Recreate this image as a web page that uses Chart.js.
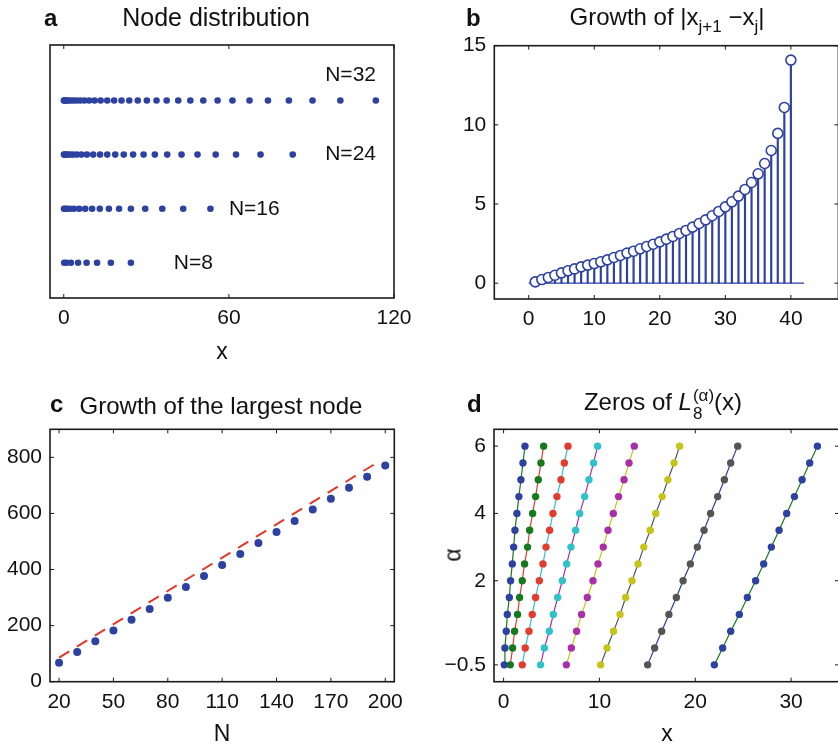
<!DOCTYPE html>
<html lang="en">
<head>
<meta charset="UTF-8">
<title>Laguerre nodes</title>
<script src="https://cdn.jsdelivr.net/npm/chart.js@4.4.1/dist/chart.umd.min.js"></script>
<style>
    body {
        margin: 0;
        width: 838px;
        height: 747px;
        overflow: hidden;
        position: relative;
        background: #fff;
        color: #111;
        font-family: "Liberation Sans", Arial, sans-serif;
    }
    canvas { position: absolute; }
    .lbl {
        position: absolute;
        white-space: nowrap;
        line-height: 1;
        transform: translateY(-50%);
    }
    .letter { font-weight: bold; font-size: 24px; }
    .title { font-size: 24px; transform: translate(-50%, -50%); }
    .axt { font-size: 23px; transform: translate(-50%, -50%); }
    .title sub { font-size: 17px; vertical-align: -7px; line-height: 0; }
    .ss {
        display: inline-block;
        vertical-align: -9px;
        line-height: 1.05;
        font-size: 17px;
        margin-left: 1px;
    }
    .ss span { display: block; }
</style>
</head>
<body>
<canvas id="chartA" width="420" height="370" style="left:0;top:0"></canvas>
<canvas id="chartB" width="405" height="370" style="left:440px;top:0"></canvas>
<canvas id="chartC" width="420" height="367" style="left:0;top:380px"></canvas>
<canvas id="chartD" width="405" height="367" style="left:440px;top:380px"></canvas>

<div class="lbl letter" style="left:44px;top:18px">a</div>
<div class="lbl title" style="left:216px;top:17px;font-size:25px">Node distribution</div>
<div class="lbl axt" style="left:222px;top:351px">x</div>

<div class="lbl letter" style="left:466px;top:18px">b</div>
<div class="lbl title" style="left:667px;top:17px">Growth of |x<sub>j+1</sub> −x<sub>j</sub>|</div>

<div class="lbl letter" style="left:50px;top:404px">c</div>
<div class="lbl title" style="left:221px;top:406px">Growth of the largest node</div>
<div class="lbl axt" style="left:222px;top:733px">N</div>

<div class="lbl letter" style="left:467px;top:404px">d</div>
<div class="lbl title" style="left:663px;top:405px">Zeros of <i>L</i><span class="ss"><span>(α)</span><span>8</span></span>(x)</div>
<div class="lbl axt" style="left:667px;top:733px">x</div>
<div class="lbl axt" style="left:453px;top:555px;transform:translate(-50%,-50%) rotate(-90deg)">α</div>

<script>
    // panel a: nodes for N = 8, 16, 24, 32
    const nodesN8 = [0.17, 1.0, 2.6, 5.2, 8.3, 12.1, 17.1, 24.4];
    const nodesN16 = [0.09, 0.47, 1.2, 2.3, 3.7, 5.6, 7.8, 10.3, 13.1, 16.4, 20.1, 24.4, 29.6, 35.8, 43.4, 53.3];
    const nodesN24 = [0.06, 0.31, 0.77, 1.43, 2.3, 3.4, 4.75, 6.4, 8.4, 10.7, 13.2, 15.8, 18.7, 21.8, 25.2,
        29.0, 33.1, 37.6, 42.8, 48.6, 55.2, 62.6, 71.5, 83.2];
    const nodesN32 = [0.04, 0.24, 0.58, 1.08, 1.74, 2.56, 3.54, 4.69, 6.0, 7.5, 9.2, 11.2, 13.4, 15.8, 18.3,
        21.0, 23.8, 26.9, 30.2, 33.7, 37.4, 41.6, 46.0, 50.7, 55.9, 61.3, 67.5, 74.2, 81.8, 90.4, 100.5, 113.4];
    const nodeSizes = [8, 16, 24, 32];
    const nodeLabels = ['N=8', 'N=16', 'N=24', 'N=32'];
    const nodeLabelX = [40, 60, 95, 95];
    const nodeLabelY = [8, 16, 24, 35.8];
    const ticksAx = [0, 60, 120];

    // panel b: spacing between consecutive nodes
    const gapIndex = [1, 2, 3, 4, 5, 6, 7, 8, 9, 10, 11, 12, 13, 14, 15, 16, 17, 18, 19, 20,
        21, 22, 23, 24, 25, 26, 27, 28, 29, 30, 31, 32, 33, 34, 35, 36, 37, 38, 39, 40];
    const gapValues = [0.08, 0.23, 0.36, 0.5, 0.65, 0.78, 0.9, 1.03, 1.14, 1.24, 1.35, 1.47, 1.62, 1.75, 1.9,
        2.02, 2.17, 2.32, 2.46, 2.61, 2.78, 2.95, 3.14, 3.33, 3.54, 3.77, 4.0, 4.26, 4.53, 4.82,
        5.14, 5.5, 5.92, 6.36, 6.91, 7.56, 8.38, 9.46, 11.1, 14.09];
    const ticksBx = [0, 10, 20, 30, 40];
    const ticksBy = [0, 5, 10, 15];

    // panel c: largest node against N
    const sizeN = [20, 30, 40, 50, 60, 70, 80, 90, 100, 110, 120, 130, 140, 150, 160, 170, 180, 190, 200];
    const largestNode = [67.8, 105.8, 143.9, 183, 221, 259, 299.6, 337.7, 377, 416, 455, 494.6, 534, 573,
        613.6, 652.8, 692, 731, 770.5];
    const fitN = [20, 197];
    const fitY = [86, 787];
    const ticksCx = [20, 50, 80, 110, 140, 170, 200];
    const ticksCy = [0, 200, 400, 600, 800];

    // panel d: the 8 zeros of L_8^(alpha) for each alpha
    const alphas = [-0.5, 0, 0.5, 1, 1.5, 2, 2.5, 3, 3.5, 4, 4.5, 5, 5.5, 6];
    const zero1 = [0.07, 0.14, 0.28, 0.39, 0.6, 0.73, 0.91, 1.05, 1.19, 1.39, 1.6, 1.81, 2.02, 2.23];
    const zero2 = [0.7, 0.94, 1.15, 1.46, 1.67, 1.95, 2.19, 2.5, 2.72, 3.03, 3.34, 3.62, 3.9, 4.18];
    const zero3 = [1.95, 2.26, 2.65, 2.99, 3.34, 3.73, 4.11, 4.43, 4.8, 5.15, 5.57, 5.99, 6.34, 6.72];
    const zero4 = [3.86, 4.25, 4.77, 5.19, 5.64, 6.13, 6.58, 7.03, 7.52, 7.94, 8.46, 8.91, 9.39, 9.81];
    const zero5 = [6.55, 7.07, 7.62, 8.14, 8.74, 9.33, 9.85, 10.4, 10.9, 11.45, 12.0, 12.57, 13.09, 13.64];
    const zero6 = [10.13, 10.79, 11.48, 12.15, 12.74, 13.4, 14.03, 14.63, 15.3, 15.88, 16.55, 17.15, 17.79, 18.37];
    const zero7 = [15.03, 15.76, 16.5, 17.25, 18.03, 18.73, 19.49, 20.22, 20.92, 21.6, 22.34, 23.04, 23.7, 24.43];
    const zero8 = [21.99, 22.86, 23.7, 24.6, 25.44, 26.3, 27.14, 27.94, 28.75, 29.54, 30.35, 31.15, 31.94, 32.75];
    const ticksDx = [0, 10, 20, 30];
    const ticksDy = [-0.5, 2, 4, 6];

    const BLUE = '#2d41a0';
    const matlab = ['#2d41a0', '#157a1c', '#e23c2e', '#2fc3c9', '#a92fa9', '#c6c41c', '#555555'];

    Chart.defaults.font.family = '"Liberation Sans", Arial, sans-serif';
    Chart.defaults.font.size = 21;
    Chart.defaults.color = '#111';
    Chart.defaults.animation = false;
    Chart.defaults.responsive = false;
    Chart.defaults.devicePixelRatio = 1;
    Chart.defaults.plugins.legend.display = false;
    Chart.defaults.plugins.tooltip.enabled = false;

    // box round the plot with short inward ticks on all sides
    const boxPlugin = {
        id: 'box',
        afterDatasetsDraw(chart, args, opts) {
            const { ctx, chartArea: a, scales } = chart;
            ctx.save();
            ctx.strokeStyle = '#1a1a1a';
            ctx.lineWidth = 1.6;
            ctx.strokeRect(a.left, a.top, a.right - a.left, a.bottom - a.top);
            ctx.lineWidth = 1;
            ctx.beginPath();
            scales.x.ticks.forEach(t => {
                const px = scales.x.getPixelForValue(t.value);
                ctx.moveTo(px, a.bottom); ctx.lineTo(px, a.bottom - 4);
                ctx.moveTo(px, a.top); ctx.lineTo(px, a.top + 4);
            });
            if (!opts.noY) {
                scales.y.ticks.forEach(t => {
                    const py = scales.y.getPixelForValue(t.value);
                    ctx.moveTo(a.left, py); ctx.lineTo(a.left + 4, py);
                    ctx.moveTo(a.right, py); ctx.lineTo(a.right - 4, py);
                });
            }
            ctx.stroke();
            ctx.restore();
        }
    };

    const nodeTextPlugin = {
        id: 'nodeText',
        afterDatasetsDraw(chart) {
            const { ctx, scales } = chart;
            ctx.save();
            ctx.fillStyle = '#111';
            ctx.font = '21px "Liberation Sans", Arial, sans-serif';
            ctx.textAlign = 'left';
            ctx.textBaseline = 'middle';
            nodeLabels.forEach((txt, i) => {
                ctx.fillText(txt, scales.x.getPixelForValue(nodeLabelX[i]), scales.y.getPixelForValue(nodeLabelY[i]));
            });
            ctx.restore();
        }
    };

    function axis(min, max, tickVals, size, isX, extra) {
        return Object.assign({
            type: 'linear',
            min: min,
            max: max,
            afterBuildTicks: s => { s.ticks = tickVals.map(v => ({ value: v })); },
            afterFit: s => { if (isX) s.height = size; else s.width = size; },
            grid: { display: false, drawTicks: false },
            border: { display: false },
            ticks: {
                padding: 8,
                autoSkip: false,
                maxRotation: 0,
                callback: v => String(v).replace('-', '\u2212')
            }
        }, extra || {});
    }

    function points(xs, ys) {
        return xs.map((x, i) => ({ x: x, y: ys[i] }));
    }

    // a
    const allNodes = [nodesN8, nodesN16, nodesN24, nodesN32];
    new Chart(document.getElementById('chartA'), {
        type: 'scatter',
        data: {
            datasets: allNodes.map((arr, k) => ({
                data: arr.map(v => ({ x: v, y: nodeSizes[k] })),
                backgroundColor: BLUE,
                borderWidth: 0,
                pointRadius: 3.3
            }))
        },
        options: {
            layout: { padding: { top: 45, right: 26, left: 0, bottom: 0 } },
            scales: {
                x: axis(-5, 120, ticksAx, 72, true),
                y: axis(2.8, 40.2, [], 50, false, { ticks: { display: false } })
            },
            plugins: { box: { noY: true } }
        },
        plugins: [boxPlugin, nodeTextPlugin]
    });

    // b
    new Chart(document.getElementById('chartB'), {
        type: 'bar',
        data: {
            datasets: [
                {
                    type: 'scatter',
                    data: points(gapIndex, gapValues),
                    backgroundColor: '#fff',
                    borderColor: BLUE,
                    borderWidth: 1.6,
                    pointRadius: 5,
                    order: 0
                },
                {
                    type: 'bar',
                    data: points(gapIndex, gapValues),
                    backgroundColor: BLUE,
                    barThickness: 1.5,
                    order: 1
                },
                {
                    type: 'line',
                    data: [{ x: 0, y: 0 }, { x: 42, y: 0 }],
                    borderColor: BLUE,
                    borderWidth: 1.3,
                    pointRadius: 0,
                    order: 2
                }
            ]
        },
        options: {
            layout: { padding: { top: 45.7, right: 5.2, left: 0, bottom: 0 } },
            scales: {
                x: axis(0, 42, ticksBx, 71, true),
                y: axis(-1, 15, ticksBy, 54.3, false)
            }
        },
        plugins: [boxPlugin]
    });

    // c
    new Chart(document.getElementById('chartC'), {
        type: 'scatter',
        data: {
            datasets: [
                {
                    data: points(sizeN, largestNode),
                    backgroundColor: BLUE,
                    borderWidth: 0,
                    pointRadius: 4
                },
                {
                    type: 'line',
                    data: points(fitN, fitY),
                    borderColor: '#e2372b',
                    borderWidth: 2,
                    borderDash: [12, 9],
                    pointRadius: 0
                }
            ]
        },
        options: {
            layout: { padding: { top: 49.3, right: 25.7, left: 0, bottom: 0 } },
            scales: {
                x: axis(15, 205, ticksCx, 65.3, true),
                y: axis(0, 900, ticksCy, 50, false)
            }
        },
        plugins: [boxPlugin]
    });

    // d
    const zeroLines = [zero1, zero2, zero3, zero4, zero5, zero6, zero7, zero8];
    new Chart(document.getElementById('chartD'), {
        type: 'line',
        data: {
            datasets: zeroLines.map((z, k) => ({
                data: points(z, alphas),
                borderColor: matlab[(k + 1) % 7],
                borderWidth: 1.2,
                pointBackgroundColor: matlab[k % 7],
                pointBorderWidth: 0,
                pointRadius: 3.7,
                tension: 0
            }))
        },
        options: {
            layout: { padding: { top: 49.3, right: 6, left: 0, bottom: 0 } },
            scales: {
                x: axis(-1, 35, ticksDx, 65.3, true),
                y: axis(-1, 6.5, ticksDy, 54, false)
            }
        },
        plugins: [boxPlugin]
    });
</script>
</body>
</html>
